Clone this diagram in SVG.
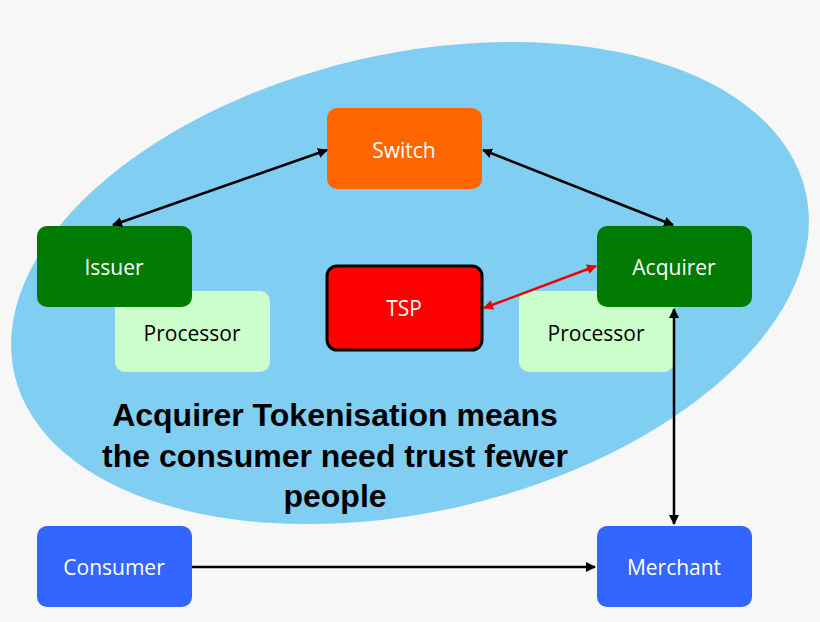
<svg xmlns="http://www.w3.org/2000/svg" width="820" height="622" viewBox="0 0 820 622">
<style>
.n{font-family:"Open Sans","Liberation Sans",sans-serif;font-size:21px;text-anchor:middle;fill:#fff}
.p{fill:#000}
.c{stroke:#000;stroke-width:2.5;fill:none;marker-start:url(#a);marker-end:url(#a)}
.t{font-family:"Liberation Sans",Arial,sans-serif;font-weight:bold;font-size:32px;text-anchor:middle;fill:#000}
</style>
<defs>
<marker id="a" viewBox="0 0 10 10" refX="9" refY="5" markerWidth="4" markerHeight="4" orient="auto-start-reverse"><path d="M0,0L10,5L0,10z" fill="#000"/></marker>
<marker id="r" viewBox="0 0 10 10" refX="9" refY="5" markerWidth="4" markerHeight="4" orient="auto-start-reverse"><path d="M0,0L10,5L0,10z" fill="#e00"/></marker>
</defs>
<rect width="820" height="622" fill="#f7f7f7"/>
<ellipse cx="410" cy="283" rx="406" ry="229" transform="rotate(-13 410 283)" fill="#80CFF3"/>
<g id="switch"><rect x="327" y="108" width="155" height="81" rx="10" fill="#FF6600"/><text class="n" x="404" y="158">Switch</text></g>
<g id="processor-left"><rect x="115" y="291" width="155" height="81" rx="10" fill="#CCFFCC"/><text class="n p" x="192" y="341">Processor</text></g>
<g id="issuer"><rect x="37" y="226" width="155" height="81" rx="10" fill="#007A00"/><text class="n" x="114" y="275">Issuer</text></g>
<g id="processor-right"><rect x="519" y="291" width="155" height="81" rx="10" fill="#CCFFCC"/><text class="n p" x="596" y="341">Processor</text></g>
<g id="acquirer"><rect x="597" y="226" width="155" height="81" rx="10" fill="#007A00"/><text class="n" x="674" y="275">Acquirer</text></g>
<g id="tsp"><rect x="327" y="266" width="155" height="84" rx="10" fill="#FF0000" stroke="#000" stroke-width="3"/><text class="n" x="404" y="316">TSP</text></g>
<g id="consumer"><rect x="37" y="526" width="155" height="81" rx="10" fill="#3366FF"/><text class="n" x="114" y="575">Consumer</text></g>
<g id="merchant"><rect x="597" y="526" width="155" height="81" rx="10" fill="#3366FF"/><text class="n" x="674" y="575">Merchant</text></g>
<g id="connectors">
<line class="c" x1="327" y1="150" x2="113" y2="225"/>
<line class="c" x1="483" y1="150" x2="673" y2="225"/>
<line x1="484" y1="308" x2="596" y2="266" stroke="#e00" stroke-width="2.5" marker-start="url(#r)" marker-end="url(#r)"/>
<line class="c" x1="674" y1="309" x2="674" y2="524"/>
<line x1="192" y1="567" x2="595" y2="567" stroke="#000" stroke-width="2.5" marker-end="url(#a)"/>
</g>
<text class="t" x="335" y="426">Acquirer Tokenisation means</text>
<text class="t" x="335" y="467">the consumer need trust fewer</text>
<text class="t" x="335" y="507">people</text>
</svg>
